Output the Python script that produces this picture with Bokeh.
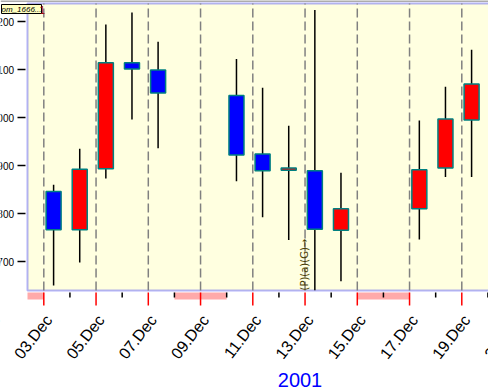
import pandas as pd
from math import pi
from bokeh.plotting import figure
from bokeh.models import Range1d, BoxAnnotation, Label, Span, ColumnDataSource
from bokeh.core.properties import value
from bokeh.embed import file_html
from bokeh.resources import INLINE

# ---- data ----
dates = ["2001-12-03", "2001-12-04", "2001-12-05", "2001-12-06", "2001-12-07",
         "2001-12-10", "2001-12-11", "2001-12-12", "2001-12-13", "2001-12-14",
         "2001-12-17", "2001-12-18", "2001-12-19"]
opens  = [1846, 1766, 1893, 2114, 2099, 2046, 1924, 1890, 1889, 1765, 1810, 1895, 1995]
highs  = [1860, 1935, 2194, 2219, 2158, 2122, 2062, 1983, 2224, 1885, 1994, 2064, 2141]
lows   = [1650, 1698, 1873, 1996, 1936, 1867, 1792, 1745, 1640, 1659, 1746, 1876, 1876]
closes = [1766, 1892, 2114, 2101, 2051, 1922, 1889, 1895, 1767, 1810, 1891, 1997, 2070]

y_ticks = [1700, 1800, 1900, 2000, 2100, 2200]
y_tick_labels = ["1700", "1800", "1900", "2000", "2100", "2200"]

major_days = ["2001-12-01", "2001-12-03", "2001-12-05", "2001-12-07", "2001-12-09", "2001-12-11",
              "2001-12-13", "2001-12-15", "2001-12-17", "2001-12-19", "2001-12-21"]
major_labels = ["01.Dec", "03.Dec", "05.Dec", "07.Dec", "09.Dec", "11.Dec",
                "13.Dec", "15.Dec", "17.Dec", "19.Dec", "21.Dec"]
minor_days = ["2001-12-04", "2001-12-06", "2001-12-08", "2001-12-10",
              "2001-12-12", "2001-12-14", "2001-12-16", "2001-12-18", "2001-12-20"]

weekend_start = ["2001-12-01", "2001-12-08", "2001-12-15"]
weekend_end   = ["2001-12-03", "2001-12-10", "2001-12-17"]

year_label = ["2001"]
legend_name = "om_1666..."
legend_index = "1"
marker_text = ["(P)(a)(G)→"]
marker_day = ["2001-12-13"]

# ---- layout (page pixels -> data) ----
W, H = 488, 388
X_START = pd.Timestamp("2001-12-01 08:13")
X_END = pd.Timestamp("2001-12-20 00:32")
Y_END = 2243.75
Y_START = Y_END - H / 0.48

def px_x(px):
    return X_START + (X_END - X_START) * (px / W)

def px_y(py):
    return Y_END - (Y_END - Y_START) * (py / H)

PANEL_LEFT = px_x(27)
PANEL_TOP = px_y(3)
PANEL_BOTTOM = px_y(290)
BAND_TOP, BAND_BOTTOM = px_y(292), px_y(299)
TICK_TOP, MAJOR_BOTTOM, MINOR_BOTTOM = px_y(292), px_y(305), px_y(297)

t = [pd.Timestamp(d) + pd.Timedelta(hours=9) for d in dates]
up = [c > o for o, c in zip(opens, closes)]
src = ColumnDataSource(dict(
    t=t, high=highs, low=lows,
    top=[max(o, c) for o, c in zip(opens, closes)],
    bottom=[min(o, c) for o, c in zip(opens, closes)],
    color=["#FF0000" if u else "#0000FF" for u in up],
))

p = figure(width=W, height=H, x_axis_type="datetime",
           x_range=Range1d(X_START, X_END), y_range=Range1d(Y_START, Y_END),
           output_backend="svg", toolbar_location=None, title=None,
           min_border_left=0, min_border_right=0, min_border_top=0, min_border_bottom=0,
           background_fill_color="white", border_fill_color="white")
p.outline_line_color = None
p.grid.visible = False
p.xaxis.visible = False
p.yaxis.visible = False

# top gray line
p.add_layout(Span(location=px_y(0.5), dimension="width", line_color="#909090", line_width=1.5))

# yellow chart panel
p.add_layout(BoxAnnotation(left=PANEL_LEFT, right=X_END + pd.Timedelta(days=1), bottom=PANEL_BOTTOM,
                           top=PANEL_TOP, fill_color="#FFFFE0", fill_alpha=1,
                           line_color="#0000EE", line_width=2, level="underlay"))

# weekend bands below the panel
p.quad(left=[max(pd.Timestamp(d), PANEL_LEFT) for d in weekend_start],
       right=[pd.Timestamp(d) for d in weekend_end],
       bottom=BAND_BOTTOM, top=BAND_TOP, fill_color="#FFAAAA", line_color=None)

# dashed vertical grid
gx = [pd.Timestamp(d) for d in major_days]
p.segment(x0=gx, y0=PANEL_BOTTOM, x1=gx, y1=PANEL_TOP, line_color="#808080", line_width=1.5, line_dash="9 4")

# x ticks and labels
mx = [pd.Timestamp(d) for d in minor_days]
p.segment(x0=gx, y0=TICK_TOP, x1=gx, y1=MAJOR_BOTTOM, line_color="red", line_width=1.5)
p.segment(x0=mx, y0=TICK_TOP, x1=mx, y1=MINOR_BOTTOM, line_color="black", line_width=1.5)
p.text(x=gx, y=[px_y(316.5)] * len(gx), text=major_labels, angle=52 * pi / 180,
       text_align="right", text_baseline="middle", x_offset=5,
       text_font=value("Liberation Sans"), text_font_size="16px", text_color="black")
p.text(x=[px_x(299.5)], y=[px_y(379)], text=year_label, text_align="center", text_baseline="middle",
       text_font=value("Liberation Sans"), text_font_size="20px", text_color="#0000FF")

# y ticks and labels (left of the panel)
p.segment(x0=[px_x(17)] * len(y_ticks), y0=y_ticks, x1=[px_x(25)] * len(y_ticks), y1=y_ticks,
          line_color="black", line_width=1.5)
p.text(x=[px_x(13.5)] * len(y_ticks), y=y_ticks, text=y_tick_labels, text_align="right",
       text_baseline="middle", text_font=value("Liberation Sans"), text_font_size="10px", text_color="black")

# candles
p.segment(x0="t", y0="low", x1="t", y1="high", source=src, line_color="black", line_width=1.5)
p.vbar(x="t", width=0.575 * 86400000, top="top", bottom="bottom", source=src,
       fill_color="color", line_color="#008080", line_width=1.5)

# marker text
p.text(x=[pd.Timestamp(d) for d in marker_day], y=[PANEL_BOTTOM], text=marker_text, angle=pi / 2,
       text_align="left", text_baseline="middle", x_offset=-1, text_font=value("DejaVu Sans"),
       text_font_size="10px", text_color="#4a3c00")

# legend box at top-left
p.add_layout(Label(x=1, x_units="screen", y=px_y(13), y_units="data", text=legend_name,
                   text_align="left", text_baseline="bottom", text_font="Liberation Sans",
                   text_font_size="8px", text_font_style="italic", text_color="black",
                   background_fill_color="#FFFFC0", border_line_color="black"))
p.add_layout(Label(x=39, x_units="screen", y=px_y(13), y_units="data", text=legend_index,
                   text_align="left", text_baseline="bottom", text_font="Liberation Sans",
                   text_font_size="10px", text_color="#A00000"))

open("out.html", "w").write(file_html(p, INLINE))
